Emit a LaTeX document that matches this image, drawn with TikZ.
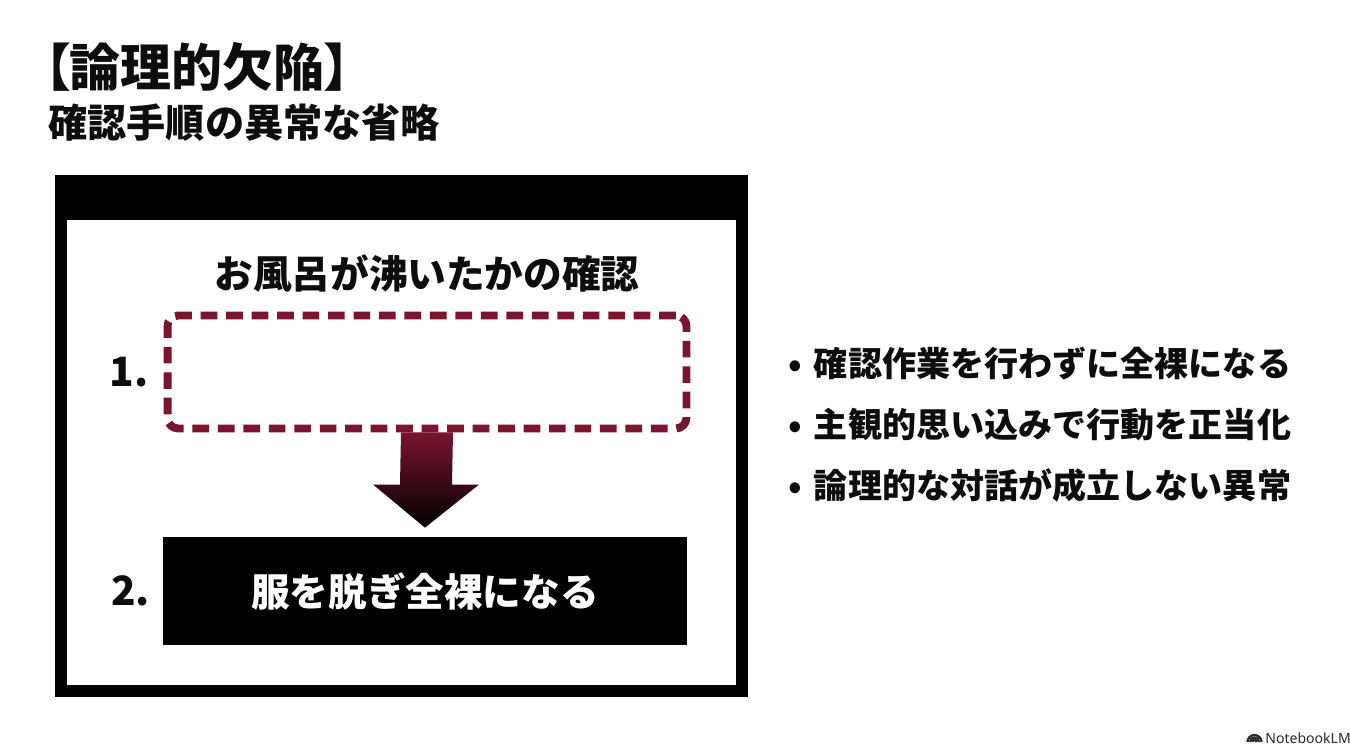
\documentclass[tikz,border=0pt]{standalone}
\usepackage{fontspec}
\IfFontExistsTF{Noto Sans CJK JP Black}
  {\setmainfont{Noto Sans CJK JP}[BoldFont={Noto Sans CJK JP Black}]}
  {\setmainfont{Noto Sans CJK JP}}
\newfontfamily\logofont{Noto Sans}
\usetikzlibrary{positioning,calc}
\definecolor{wine}{HTML}{7A1430}
\definecolor{ink}{HTML}{0D0D0D}
\definecolor{logogray}{HTML}{2A2A2A}

\begin{document}
\begin{tikzpicture}[x=0.02cm,y=-0.02cm,
  txt/.style={inner sep=0pt,text=ink,font=\bfseries\fontsize{22}{26}\selectfont},
  item/.style={txt,anchor=west,font=\bfseries\fontsize{19.4}{23}\selectfont},
  num/.style={txt,font=\bfseries\fontsize{23}{27}\selectfont},
  checkbox/.style={draw=wine,line width=4.5pt,dash pattern=on 9.5pt off 5pt,rounded corners=6pt,minimum width=10.38cm,minimum height=2.26cm},
  actbox/.style={fill=black,text=white,inner sep=0pt,minimum width=10.48cm,minimum height=2.16cm,font=\bfseries\fontsize{22}{26}\selectfont}
]
  \useasboundingbox[fill=white] (0,0) rectangle (1350,753);

  % title
  \node[txt,anchor=west,font=\bfseries\fontsize{29}{34}\selectfont\addfontfeature{RawFeature=+palt}] (title) at (44,67) {【論理的欠陥】};
  \node[txt,anchor=west,font=\bfseries\fontsize{22.3}{26}\selectfont] (subtitle) at (48,123) {確認手順の異常な省略};

  % frame
  \fill[black] (55,175) rectangle (748,697);
  \fill[white] (67,220) rectangle (736,685);

  % steps
  \node[checkbox] (step1) at (427,372) {};
  \node[actbox] (step2) at (425,591) {服を脱ぎ全裸になる};
  \node[txt,above=0.38cm of step1] (check) {お風呂が沸いたかの確認};
  \node[num,left=0.3cm of step1] (n1) {1.};
  \node[num,left=0.25cm of step2] (n2) {2.};

  % arrow
  \shade[top color=wine,middle color=black,bottom color=black]
    ($(step1.south)+(-26,0)$) -- ($(step1.south)+(26,0)$)
    -- ($(step1.south)!0.5!(step2.north)+(26,0)$) -- ($(step1.south)!0.5!(step2.north)+(53,0)$)
    -- ($(step2.north)+(0,-9)$)
    -- ($(step1.south)!0.5!(step2.north)+(-53,0)$) -- ($(step1.south)!0.5!(step2.north)+(-26,0)$) -- cycle;

  % points
  \node[item] (p1) at (788,364) {•\hspace{0.35em}確認作業を行わずに全裸になる};
  \node[item] (p2) at (788,425) {•\hspace{0.35em}主観的思い込みで行動を正当化};
  \node[item] (p3) at (788,485) {•\hspace{0.35em}論理的な対話が成立しない異常};

  % logo
  \foreach \r in {7,4.5,2}
    \draw[logogray,line width=1.3pt] (1254.5-\r,742) arc[start angle=180,end angle=360,radius=\r];
  \node[anchor=west,inner sep=0pt,text=logogray,font=\logofont\bfseries\fontsize{8}{9}\selectfont] (logo) at (1265,738) {NotebookLM};
\end{tikzpicture}
\end{document}
